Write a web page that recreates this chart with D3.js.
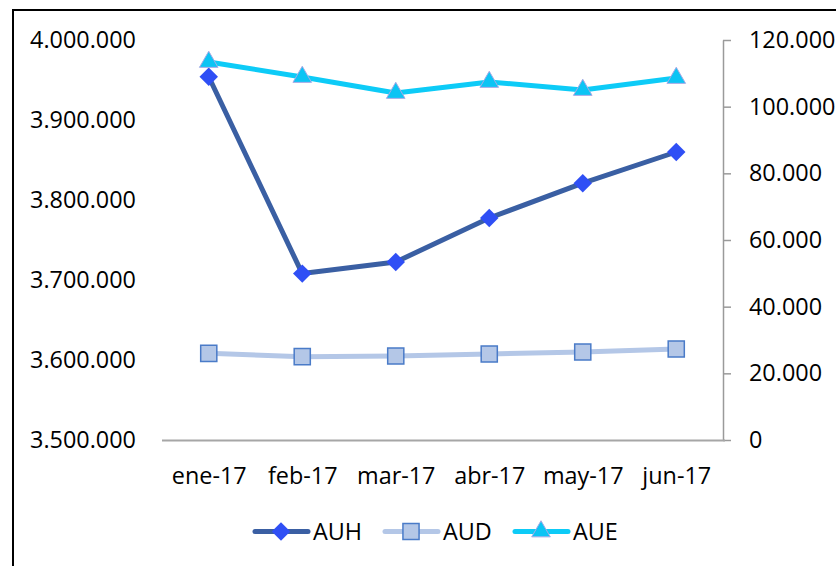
<!DOCTYPE html>
<html><head><meta charset="utf-8">
<script src="https://cdn.jsdelivr.net/npm/d3@7"></script>
<style>body{margin:0;background:#fff}svg{display:block}text{font-family:"Open Sans",sans-serif;fill:#000}</style>
</head><body>
<svg id="c" width="836" height="566"></svg>
<script>
const categories = ["ene-17","feb-17","mar-17","abr-17","may-17","jun-17"];
const seriesNames = ["AUH","AUD","AUE"];
const AUH = [3954000, 3708000, 3722500, 3777500, 3821000, 3860000];
const AUD = [26000, 25000, 25200, 25800, 26400, 27300];
const AUE = [113400, 108900, 104100, 107400, 105000, 108600];
const leftTicks = [3500000, 3600000, 3700000, 3800000, 3900000, 4000000];
const rightTicks = [0, 20000, 40000, 60000, 80000, 100000, 120000];

const svg = d3.select("#c");
const loc = d3.formatLocale({decimal:",", thousands:".", grouping:[3], currency:["",""]});
const fmt = loc.format(",");
const FS = 23;

// frame
svg.append("rect").attr("x",13).attr("y",10).attr("width",900).attr("height",700)
  .attr("fill","none").attr("stroke","#000").attr("stroke-width",2);

const x = d3.scalePoint().domain(categories).range([162,723]).padding(0.5);
const yL = d3.scaleLinear().domain([3500000,4000000]).range([440,40]);
const yR = d3.scaleLinear().domain([0,120000]).range([440,40]);

// measure horizontal scale so label widths match
const probe = svg.append("text").attr("font-size",FS).text("4.000.000");
const sx = 106 / probe.node().getComputedTextLength();
probe.remove();
function stretch(sel){
  sel.each(function(){
    const t = d3.select(this);
    const tx = +t.attr("x") || 0;
    const ty = +t.attr("y") || 0;
    t.attr("x",0).attr("y",0).attr("transform",`translate(${tx},${ty}) scale(${sx},1)`);
  });
}

// left axis (no line, no ticks)
const gL = svg.append("g").attr("transform","translate(136,0)")
  .call(d3.axisLeft(yL).tickValues(leftTicks).tickFormat(fmt).tickSize(0).tickPadding(0));
gL.select(".domain").remove();
gL.selectAll("text").attr("font-size",FS).attr("font-family","Open Sans").attr("fill","#000");
stretch(gL.selectAll("text"));

// right axis
const gR = svg.append("g").attr("transform","translate(723,0)")
  .call(d3.axisRight(yR).tickValues(rightTicks).tickFormat(fmt).tickSizeInner(8).tickSizeOuter(0).tickPadding(18));
gR.select(".domain").attr("stroke","#9a9a9a").attr("stroke-width",1.5);
gR.selectAll(".tick line").attr("stroke","#9a9a9a").attr("stroke-width",1.5);
gR.selectAll("text").attr("font-size",FS).attr("font-family","Open Sans").attr("fill","#000");
stretch(gR.selectAll("text"));

// x axis
const gX = svg.append("g").attr("transform","translate(0,440.5)")
  .call(d3.axisBottom(x).tickSize(0).tickPadding(27));
gX.select(".domain").attr("d","M162,0H725").attr("stroke","#a6a6a6").attr("stroke-width",2);
gX.selectAll("text").attr("font-size",FS).attr("font-family","Open Sans").attr("fill","#000");
stretch(gX.selectAll("text"));

const styles = {
  AUH:{line:"#3A5FA3", fill:"#2F4FF5", stroke:"#2F4FF5", sym:d3.symbolSquare, size:170, rot:45, sw:0},
  AUD:{line:"#B4C7E7", fill:"#B4C7E7", stroke:"#4A7BC8", sym:d3.symbolSquare, size:260, rot:0, sw:1.5},
  AUE:{line:"#0DCBF7", fill:"#0CC4F4", stroke:"#A7A9E6", sym:d3.symbolTriangle, size:150, rot:0, sw:1}
};
const data = {AUH:{v:AUH,y:yL}, AUD:{v:AUD,y:yR}, AUE:{v:AUE,y:yR}};

seriesNames.forEach(name=>{
  const st = styles[name], d = data[name];
  const line = d3.line().x((v,i)=>x(categories[i])).y(v=>d.y(v));
  svg.append("path").attr("d",line(d.v)).attr("fill","none")
    .attr("stroke",st.line).attr("stroke-width",5).attr("stroke-linejoin","round");
  svg.append("g").selectAll("path").data(d.v).join("path")
    .attr("d",d3.symbol().type(st.sym).size(st.size))
    .attr("transform",(v,i)=>`translate(${x(categories[i])},${d.y(v)}) rotate(${st.rot})`)
    .attr("fill",st.fill).attr("stroke",st.stroke).attr("stroke-width",st.sw);
});

// legend
const legX = [253, 383, 513];
const legY = 531.5;
seriesNames.forEach((name,i)=>{
  const st = styles[name];
  const g = svg.append("g").attr("transform",`translate(${legX[i]},${legY})`);
  g.append("line").attr("x1",2).attr("x2",55).attr("y1",0).attr("y2",0)
    .attr("stroke",st.line).attr("stroke-width",5).attr("stroke-linecap","round");
  g.append("path").attr("d",d3.symbol().type(st.sym).size(st.size))
    .attr("transform",`translate(28,0) rotate(${st.rot})`)
    .attr("fill",st.fill).attr("stroke",st.stroke).attr("stroke-width",st.sw);
  const t = g.append("text").attr("x",60).attr("y",0).attr("dy","0.36em")
    .attr("font-size",FS).text(name);
  stretch(t);
});
</script>
</body></html>
